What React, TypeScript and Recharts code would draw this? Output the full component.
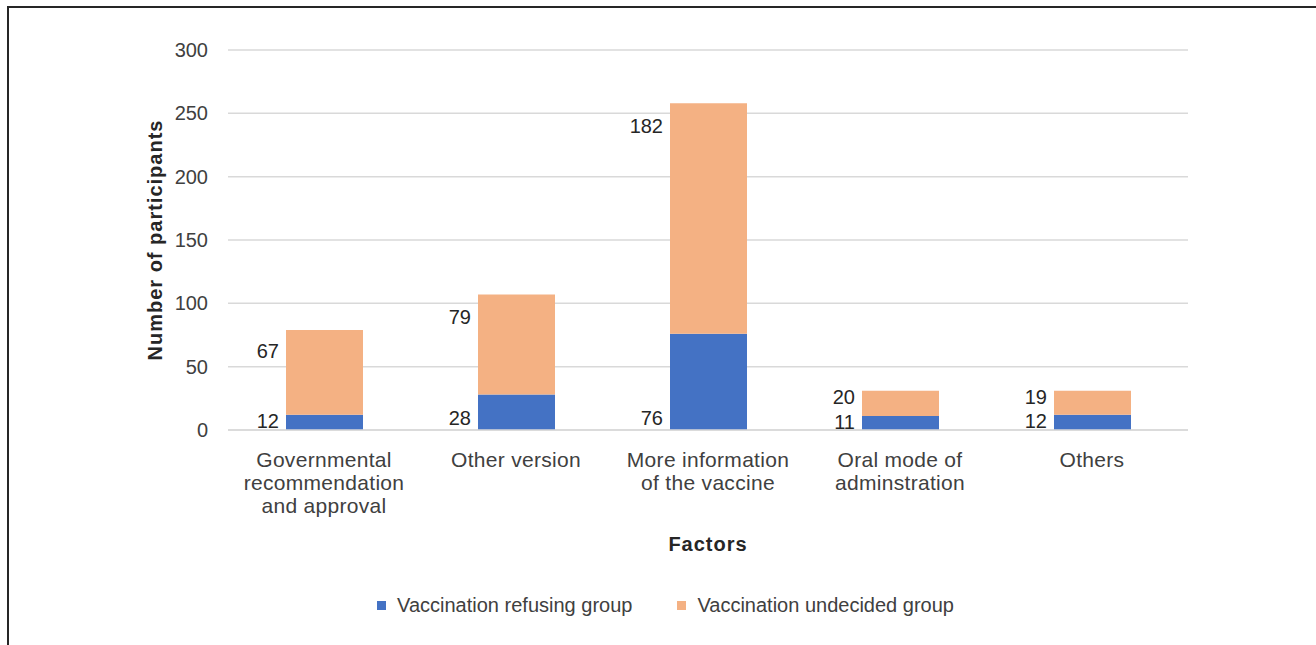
import * as React from 'react';
import { BarChart, Bar, CartesianGrid, XAxis, YAxis, Label, LabelList } from 'recharts';

const categories = [
  'Governmental\nrecommendation\nand approval',
  'Other version',
  'More information\nof the vaccine',
  'Oral mode of\nadminstration',
  'Others',
];
const refusing = [12, 28, 76, 11, 12];
const undecided = [67, 79, 182, 20, 19];
const yTicks = [0, 50, 100, 150, 200, 250, 300];
const seriesNames = ['Vaccination refusing group', 'Vaccination undecided group'];
const seriesColors = ['#4472C4', '#F4B183'];

const data = categories.map((name, i) => ({ name, refusing: refusing[i], undecided: undecided[i] }));

const FONT = '"Liberation Sans", Arial, sans-serif';

const CategoryTick = ({ x, y, payload }: any) => {
  const lines = String(payload.value).split('\n');
  return (
    <text x={x} y={y} textAnchor="middle" fill="#404040" fontSize={21} fontFamily={FONT} letterSpacing={0.3}>
      {lines.map((l, i) => (
        <tspan key={i} x={x} dy={i === 0 ? 37 : 23}>{l}</tspan>
      ))}
    </text>
  );
};

const bottomLabel = ({ x, y, height, value }: any) => {
  const cy = y + height - Math.min(12, height * 0.6);
  return (
    <text x={x - 7} y={cy} textAnchor="end" dominantBaseline="central" fill="#262626" fontSize={20} fontFamily={FONT}>
      {value}
    </text>
  );
};

const topLabel = ({ x, y, height, value }: any) => {
  const cy = y + Math.min(23, height * 0.25);
  return (
    <text x={x - 7} y={cy} textAnchor="end" dominantBaseline="central" fill="#262626" fontSize={20} fontFamily={FONT}>
      {value}
    </text>
  );
};

export default function App() {
  return (
    <div
      style={{
        position: 'absolute',
        left: 7,
        top: 6,
        width: 1309,
        height: 639,
        boxSizing: 'border-box',
        borderTop: '2px solid #262626',
        borderLeft: '2px solid #262626',
        background: '#fff',
        fontFamily: FONT,
      }}
    >
      <BarChart width={1300} height={630} data={data} margin={{ top: 42, right: 121, left: 0, bottom: 83 }}>
        <CartesianGrid vertical={false} stroke="#d9d9d9" strokeWidth={1.5} />
        <XAxis
          dataKey="name"
          height={125}
          tick={<CategoryTick />}
          tickLine={false}
          tickSize={0}
          tickMargin={0}
          interval={0}
          axisLine={{ stroke: '#d9d9d9', strokeWidth: 1.5 }}
        >
          <Label
            value="Factors"
            position="insideBottom"
            offset={4}
            style={{ fontSize: 20, fontWeight: 'bold', fill: '#262626', fontFamily: FONT, letterSpacing: 1 }}
          />
        </XAxis>
        <YAxis
          width={219}
          domain={[0, 300]}
          ticks={yTicks}
          axisLine={false}
          tickLine={false}
          tickSize={0}
          tickMargin={20}
          tick={{ fontSize: 20, fill: '#404040', fontFamily: FONT }}
        >
          <Label
            value="Number of participants"
            angle={-90}
            position="insideLeft"
            offset={146}
            style={{ textAnchor: 'middle', fontSize: 20, fontWeight: 'bold', fill: '#262626', fontFamily: FONT, letterSpacing: 1 }}
          />
        </YAxis>
        <Bar dataKey="refusing" stackId="a" fill={seriesColors[0]} barSize={77} isAnimationActive={false}>
          <LabelList dataKey="refusing" content={bottomLabel} />
        </Bar>
        <Bar dataKey="undecided" stackId="a" fill={seriesColors[1]} barSize={77} isAnimationActive={false}>
          <LabelList dataKey="undecided" content={topLabel} />
        </Bar>
      </BarChart>
      <div
        style={{
          position: 'absolute',
          top: 585,
          left: 0,
          width: 1300,
          height: 24,
          paddingLeft: 13,
          boxSizing: 'border-box',
          display: 'flex',
          justifyContent: 'center',
          alignItems: 'center',
          gap: 45,
          fontSize: 20,
          color: '#404040',
        }}
      >
        {seriesNames.map((n, i) => (
          <div key={n} style={{ display: 'flex', alignItems: 'center' }}>
            <span style={{ width: 9, height: 9, background: seriesColors[i], marginRight: 11, display: 'inline-block' }} />
            <span>{n}</span>
          </div>
        ))}
      </div>
    </div>
  );
}
